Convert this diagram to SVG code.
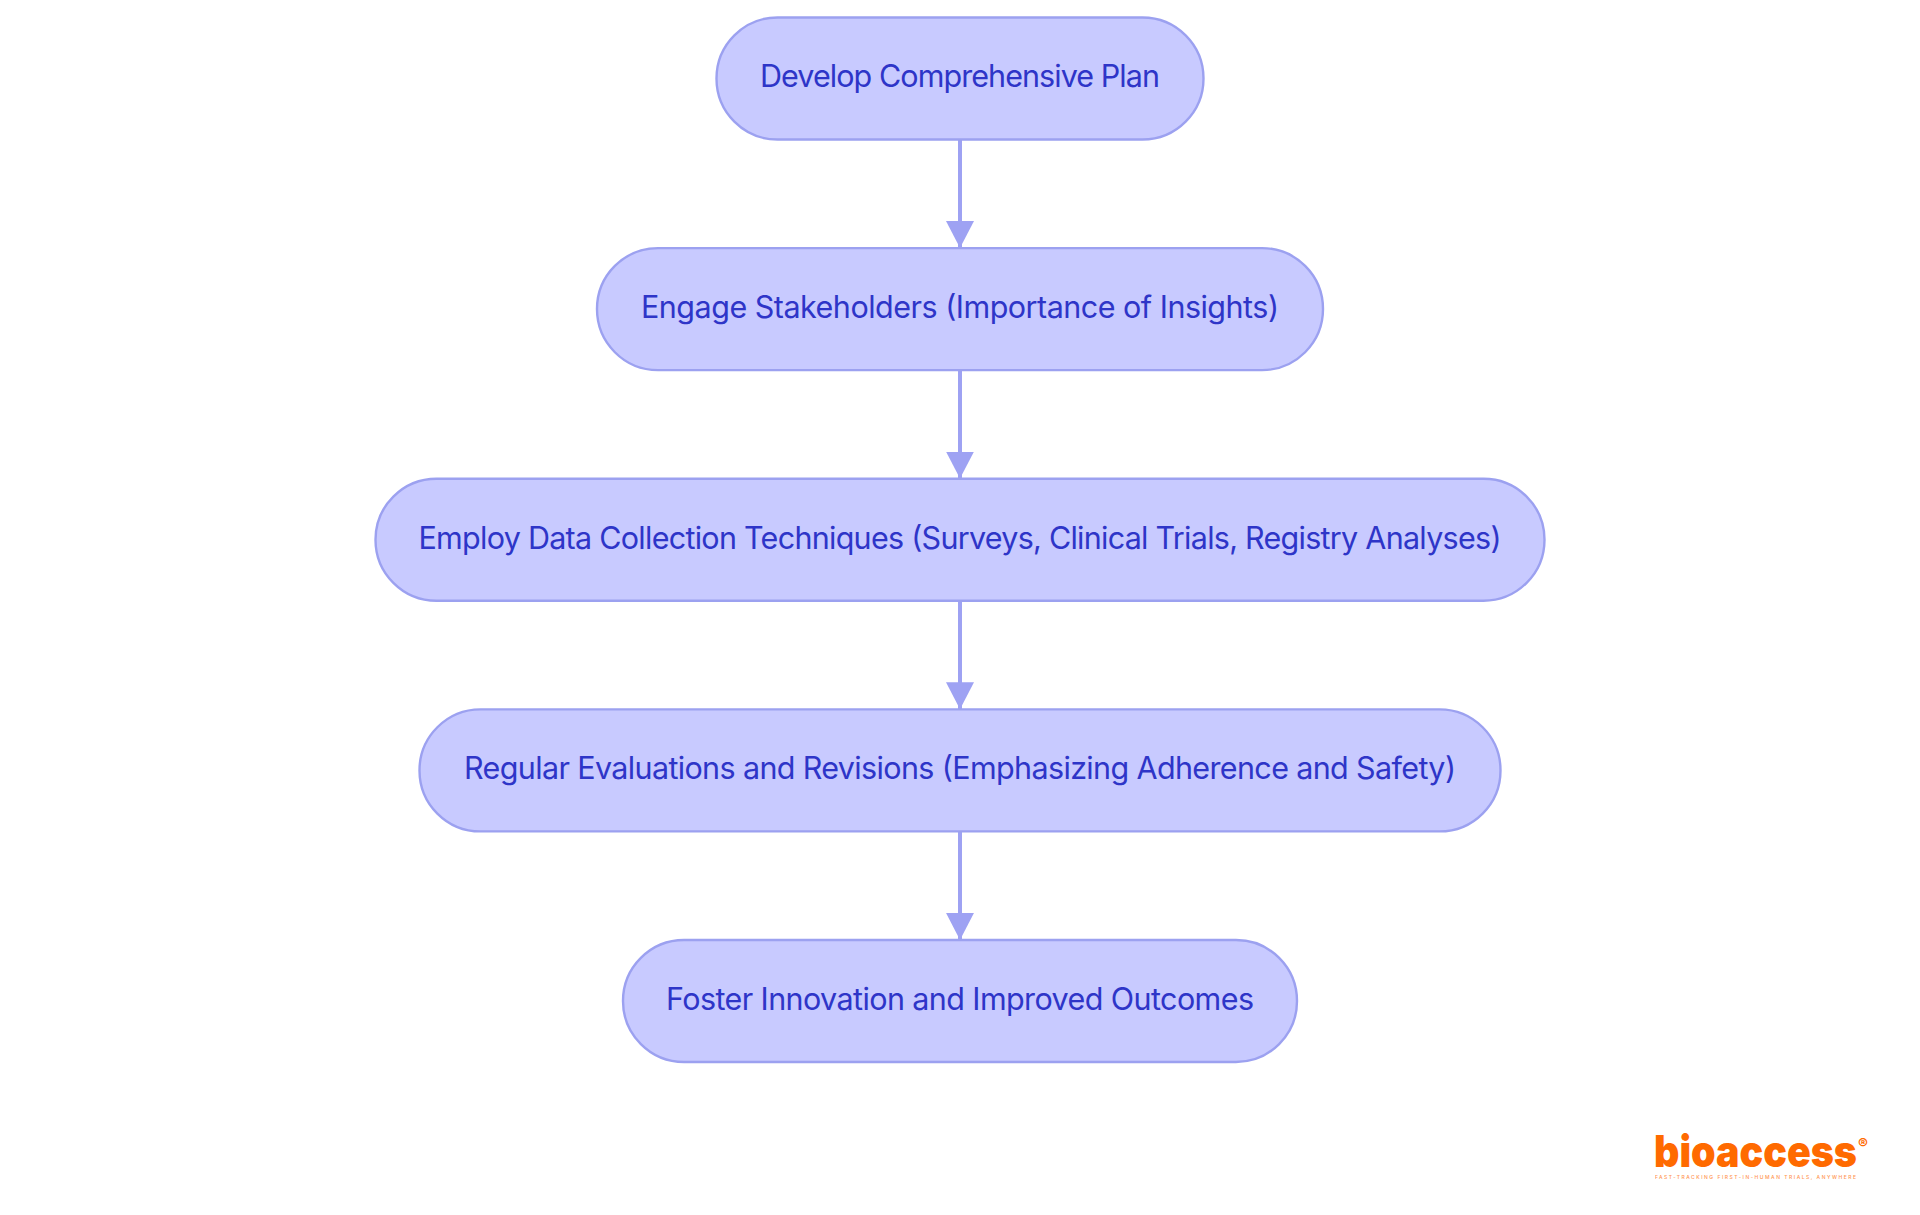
<svg xmlns="http://www.w3.org/2000/svg" width="1920" height="1215" viewBox="0 0 1920 1215">
<style>
.n{fill:#C8CAFF;stroke:#9CA1F0;stroke-width:2.400}
.t{font-family:Inter,"Noto Sans",sans-serif;font-size:30.500px;fill:#2E35C8;text-anchor:middle}
.e{stroke:#9EA2F3;stroke-width:4;fill:none;marker-end:url(#a)}
.l{font-family:Inter,"Liberation Sans",sans-serif;fill:#FF6A00}
</style>
<defs><marker id="a" markerUnits="userSpaceOnUse" markerWidth="28" markerHeight="28" refX="27" refY="14" orient="auto"><path d="M0 0L27 14L0 28z" fill="#9EA2F3"/></marker></defs>
<rect width="1920" height="1215" fill="#fff"/>
<g id="connectors">
<path class="e" d="M960 139.500V248"/>
<path class="e" d="M960 370V478.600"/>
<path class="e" d="M960 600.700V709.200"/>
<path class="e" d="M960 831.300V939.900"/>
</g>
<g id="n1"><rect class="n" x="716.500" y="17.500" width="487" height="122" rx="61"/><text class="t" x="960" y="87" textLength="400">Develop Comprehensive Plan</text></g>
<g id="n2"><rect class="n" x="597" y="248.100" width="726" height="122" rx="61"/><text class="t" x="960" y="317.700" textLength="638">Engage Stakeholders (Importance of Insights)</text></g>
<g id="n3"><rect class="n" x="375.500" y="478.700" width="1169" height="122" rx="61"/><text class="t" x="960" y="549" textLength="1083">Employ Data Collection Techniques (Surveys, Clinical Trials, Registry Analyses)</text></g>
<g id="n4"><rect class="n" x="419.500" y="709.400" width="1081" height="122" rx="61"/><text class="t" x="960" y="779" textLength="992">Regular Evaluations and Revisions (Emphasizing Adherence and Safety)</text></g>
<g id="n5"><rect class="n" x="623" y="940" width="674" height="122" rx="61"/><text class="t" x="960" y="1010" textLength="588">Foster Innovation and Improved Outcomes</text></g>
<g id="logo">
<text class="l" x="1654" y="1167" font-size="44" font-weight="900" textLength="203" lengthAdjust="spacingAndGlyphs">bioaccess</text>
<text class="l" x="1858" y="1149" font-size="15" font-weight="700">®</text>
<text class="l" x="1655" y="1179" font-size="5" font-weight="500" opacity="0.7" textLength="201">FAST-TRACKING FIRST-IN-HUMAN TRIALS, ANYWHERE</text>
</g>
</svg>
